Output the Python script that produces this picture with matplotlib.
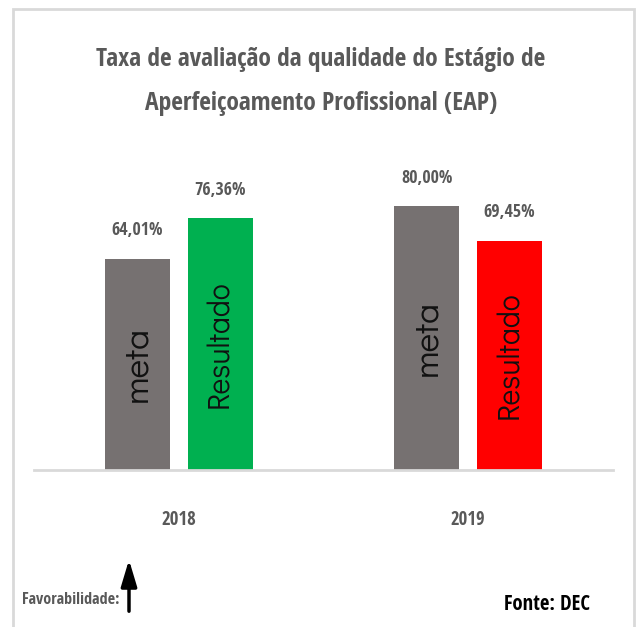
import numpy as np
import matplotlib
matplotlib.use('Agg')
from matplotlib import pyplot as plt
from matplotlib.patches import Rectangle, FancyArrowPatch

anos = ['2018', '2019']
meta = [64.01, 80.00]
resultado = [76.36, 69.45]
rotulos_meta = ['64,01%', '80,00%']
rotulos_resultado = ['76,36%', '69,45%']
cores_resultado = ['#00B050', '#FF0000']

fonte = ['Open Sans Condensed', 'DejaVu Sans']
fonte_barra = ['Didact Gothic', 'DejaVu Sans']
cinza_txt = '#595959'

fig = plt.figure(figsize=(6.41, 6.27), dpi=100)
W, H = 641, 627
renderer = fig.canvas.get_renderer()


def ajusta(t, largura_px, vertical=False):
    # ajusta o tamanho da fonte para ocupar a largura desejada (px)
    bb = t.get_window_extent(renderer)
    medida = bb.height if vertical else bb.width
    t.set_fontsize(t.get_fontsize() * largura_px / medida)
    return t


# area do grafico em pixels: x 34..613, y 140..470
ax = fig.add_axes([34 / W, 1 - 470 / H, (613 - 34) / W, (470 - 140) / H])

x = np.arange(len(anos))
largura = 0.2245
desloc = 0.143
b1 = ax.bar(x - desloc, meta, largura, color='#767171')
b2 = ax.bar(x + desloc, resultado, largura, color=cores_resultado)

ax.set_xlim(-0.5, 1.5)
ax.set_ylim(0, 100)
for s in ['top', 'right', 'left']:
    ax.spines[s].set_visible(False)
ax.spines['bottom'].set_color('#d9d9d9')
ax.spines['bottom'].set_linewidth(2)
ax.set_yticks([])
ax.set_xticks(x)
ax.set_xticklabels(anos, family=fonte, fontsize=14, color=cinza_txt)
ax.tick_params(axis='x', length=0, pad=29)
for t in ax.get_xticklabels():
    ajusta(t, 35)

for barras, rotulos, nome, comp in [(b1, rotulos_meta, 'meta', 76), (b2, rotulos_resultado, 'Resultado', 128)]:
    for barra, rot in zip(barras, rotulos):
        cx = barra.get_x() + barra.get_width() / 2
        h = barra.get_height()
        t = ax.annotate(rot, (cx, h), xytext=(0, 14), textcoords='offset points',
                        ha='center', va='bottom', family=fonte, fontsize=14, color=cinza_txt)
        ajusta(t, 52)
        t = ax.text(cx, h / 2, nome, rotation=90, ha='center', va='center',
                    fontsize=15, color='#111111', family=fonte_barra)
        ajusta(t, comp, vertical=True)

t1 = fig.text(321 / W, 1 - 59 / H, 'Taxa de avaliação da qualidade do Estágio de',
              ha='center', va='center', family=fonte, fontsize=20, color=cinza_txt)
ajusta(t1, 450)
fig.text(321 / W, 1 - 104 / H, 'Aperfeiçoamento Profissional (EAP)',
         ha='center', va='center', family=fonte, fontsize=t1.get_fontsize(), color=cinza_txt)

t = fig.text(22 / W, 1 - 600 / H, 'Favorabilidade:', ha='left', va='center',
             family=fonte, fontsize=14, color=cinza_txt)
ajusta(t, 98)
t = fig.text(504 / W, 1 - 604 / H, 'Fonte: DEC', ha='left', va='center',
             family=fonte, fontsize=14, fontweight='bold', color='black')
ajusta(t, 86)
fig.add_artist(FancyArrowPatch(
    (129 / W, 1 - 614 / H), (129 / W, 1 - 557 / H), transform=fig.transFigure,
    arrowstyle='-|>,head_length=1.0,head_width=0.3', mutation_scale=16,
    color='black', lw=2.5))

# moldura cinza
fig.add_artist(Rectangle((13 / W, -0.05), (634 - 13) / W, 1 - 9 / H + 0.05,
                         transform=fig.transFigure, fill=False,
                         edgecolor='#d9d9d9', lw=2))

fig.savefig('out.png', dpi=100)
